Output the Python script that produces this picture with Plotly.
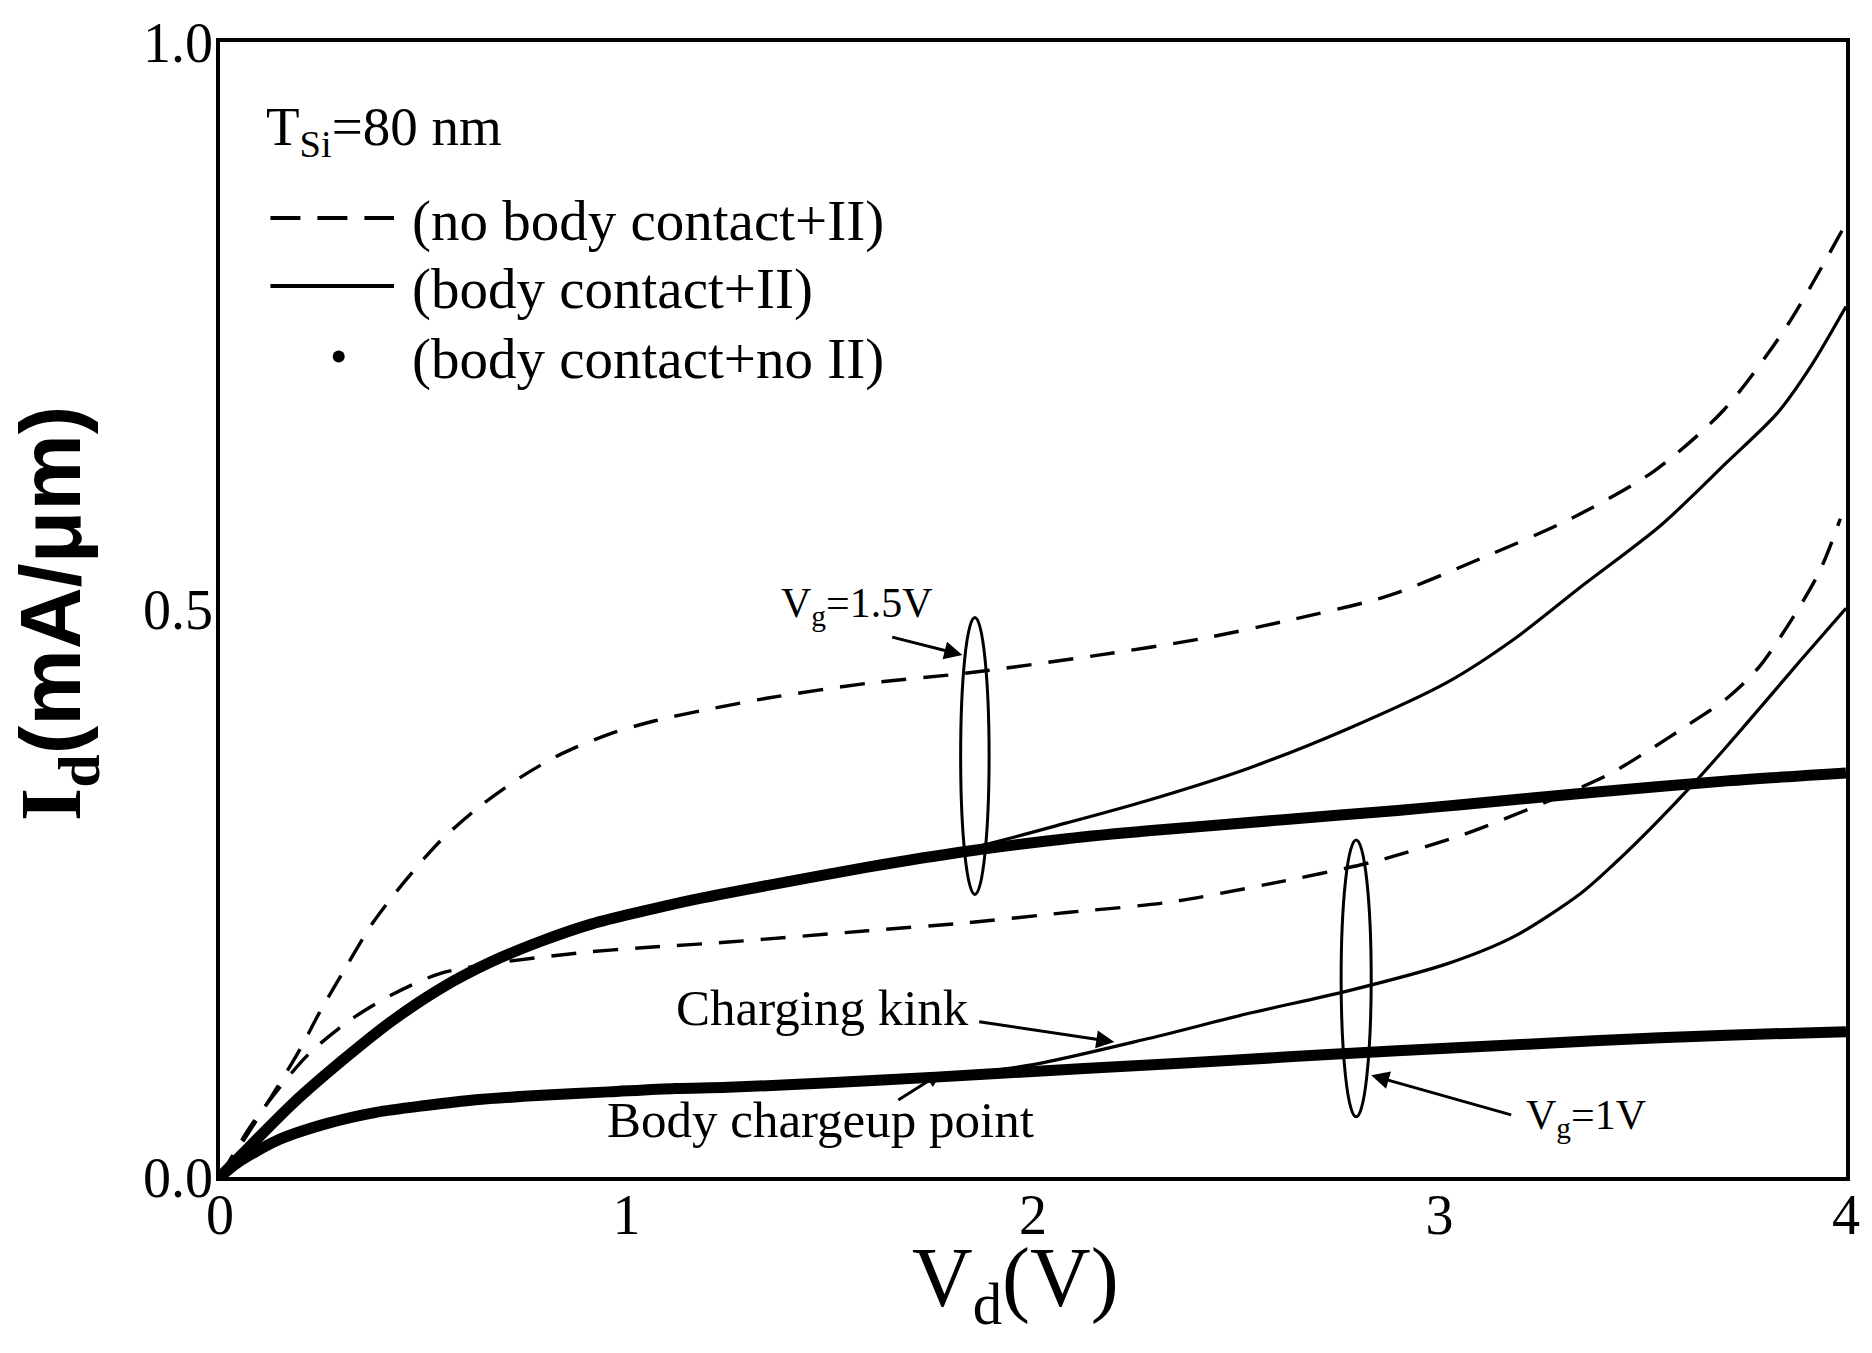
import plotly.graph_objects as go

# ---------------- data ----------------
# Vg = 1.5 V, no body contact + impact ionisation (dashed)
v_nbc_15 = [0, 0.065, 0.139, 0.196, 0.245, 0.31, 0.376, 0.458, 0.539, 0.637, 0.743, 0.841, 0.956, 1.07, 1.2,
            1.348, 1.593, 1.838, 2.165, 2.41, 2.623, 2.873, 3.102, 3.323, 3.528, 3.7, 3.855, 3.995]
i_nbc_15 = [0, 0.036, 0.078, 0.112, 0.145, 0.185, 0.224, 0.262, 0.295, 0.326, 0.353, 0.373, 0.39, 0.402, 0.412,
            0.422, 0.435, 0.444, 0.46, 0.474, 0.49, 0.512, 0.545, 0.58, 0.622, 0.676, 0.75, 0.837]

# Vg = 1.5 V, body contact + II (thin solid)
v_bc_15 = [0, 0.057, 0.18, 0.302, 0.425, 0.547, 0.67, 0.792, 0.915, 1.038, 1.16, 1.348, 1.593, 1.838,
           2.083, 2.284, 2.529, 2.775, 3.02, 3.184, 3.348, 3.544, 3.708, 3.831, 3.913, 4.0]
i_bc_15 = [0, 0.021, 0.065, 0.103, 0.138, 0.167, 0.19, 0.208, 0.223, 0.234, 0.244, 0.257, 0.273, 0.289,
           0.312, 0.332, 0.36, 0.395, 0.436, 0.474, 0.52, 0.574, 0.63, 0.673, 0.714, 0.767]

# Vg = 1.5 V, body contact + no II (thick dotted)
v_bcn_15 = [0, 0.057, 0.18, 0.302, 0.425, 0.547, 0.67, 0.792, 0.915, 1.038, 1.16, 1.348, 1.593, 1.838,
            2.083, 2.284, 2.623, 2.897, 3.053, 3.38, 3.708, 4.0]
i_bcn_15 = [0, 0.021, 0.065, 0.103, 0.138, 0.167, 0.19, 0.208, 0.223, 0.234, 0.244, 0.257, 0.273, 0.287,
            0.298, 0.305, 0.315, 0.323, 0.328, 0.339, 0.349, 0.356]

# Vg = 1 V, no body contact + II (dashed)
v_nbc_1 = [0, 0.074, 0.147, 0.22, 0.319, 0.425, 0.539, 0.67, 0.899, 1.038, 1.25, 1.593, 1.838, 2.083, 2.333,
           2.578, 2.84, 3.061, 3.266, 3.413, 3.511, 3.61, 3.708, 3.79, 3.93, 3.986]
i_nbc_1 = [0, 0.044, 0.079, 0.109, 0.138, 0.161, 0.179, 0.188, 0.198, 0.202, 0.207, 0.217, 0.224, 0.233, 0.242,
           0.258, 0.278, 0.302, 0.331, 0.354, 0.375, 0.398, 0.422, 0.451, 0.53, 0.58]

# Vg = 1 V, body contact + II (thin solid)
v_bc_1 = [0, 0.041, 0.139, 0.262, 0.384, 0.507, 0.629, 0.792, 0.956, 1.119, 1.25, 1.5, 1.8, 2.0, 2.284, 2.529,
          2.775, 3.02, 3.184, 3.348, 3.43, 3.53, 3.626, 3.708, 3.79, 3.888, 4.0]
i_bc_1 = [0, 0.012, 0.032, 0.047, 0.057, 0.063, 0.068, 0.072, 0.075, 0.078, 0.079, 0.083, 0.09, 0.099, 0.122,
          0.144, 0.164, 0.188, 0.212, 0.25, 0.276, 0.311, 0.347, 0.38, 0.414, 0.455, 0.501]

# Vg = 1 V, body contact + no II (thick dotted)
v_bcn_1 = [0, 0.041, 0.139, 0.262, 0.384, 0.507, 0.629, 0.792, 0.956, 1.119, 1.25, 1.5, 1.76, 2.0, 2.25, 2.5,
           2.726, 3.053, 3.38, 3.708, 4.0]
i_bcn_1 = [0, 0.012, 0.032, 0.047, 0.057, 0.063, 0.068, 0.072, 0.075, 0.078, 0.079, 0.083, 0.088, 0.093, 0.098,
           0.103, 0.108, 0.114, 0.12, 0.125, 0.128]

x_ticks = [0, 1, 2, 3, 4]
x_ticktext = ["0", "1", "2", "3", "4"]
y_ticks = [0, 0.5, 1.0]
y_ticktext = ["0.0", "0.5", "1.0"]

legend_labels = ["(no body contact+II)", "(body contact+II)", "(body contact+no II)"]

# ---------------- figure ----------------
SERIF = "Liberation Serif"
BLACK = "#000000"
DASH = "25px,17px"

fig = go.Figure()

for vx, iy in [(v_bcn_15, i_bcn_15), (v_bcn_1, i_bcn_1)]:
    fig.add_trace(go.Scatter(x=vx, y=iy, mode="lines", line=dict(color=BLACK, width=11, shape="spline", smoothing=0.8),
                             showlegend=False, hoverinfo="skip"))
for vx, iy in [(v_bc_15, i_bc_15), (v_bc_1, i_bc_1)]:
    fig.add_trace(go.Scatter(x=vx, y=iy, mode="lines", line=dict(color=BLACK, width=3.2, shape="spline", smoothing=0.8),
                             showlegend=False, hoverinfo="skip"))
for vx, iy in [(v_nbc_15, i_nbc_15), (v_nbc_1, i_nbc_1)]:
    fig.add_trace(go.Scatter(x=vx, y=iy, mode="lines",
                             line=dict(color=BLACK, width=3.4, dash=DASH, shape="spline", smoothing=0.8),
                             showlegend=False, hoverinfo="skip"))

shapes = []
# group ellipses
shapes.append(dict(type="circle", xref="x", yref="y", x0=1.857 - 0.035, x1=1.857 + 0.035,
                   y0=0.371 - 0.122, y1=0.371 + 0.122, line=dict(color=BLACK, width=3)))
shapes.append(dict(type="circle", xref="x", yref="y", x0=2.795 - 0.037, x1=2.795 + 0.037,
                   y0=0.175 - 0.122, y1=0.175 + 0.122, line=dict(color=BLACK, width=3)))
# manual legend samples
shapes.append(dict(type="line", xref="paper", yref="paper", x0=0.031, x1=0.107, y0=0.845, y1=0.845,
                   line=dict(color=BLACK, width=4, dash="30px,17px")))
shapes.append(dict(type="line", xref="paper", yref="paper", x0=0.031, x1=0.107, y0=0.785, y1=0.785,
                   line=dict(color=BLACK, width=4)))
shapes.append(dict(type="circle", xref="paper", yref="paper", xsizemode="pixel", ysizemode="pixel",
                   xanchor=0.073, yanchor=0.723, x0=-6, x1=6, y0=-6, y1=6,
                   fillcolor=BLACK, line=dict(color=BLACK, width=0)))

ann = []
font_leg = dict(family=SERIF, size=57, color=BLACK)
ann.append(dict(xref="paper", yref="paper", x=0.027, y=0.922, xanchor="left", yanchor="middle",
                text="T<sub>Si</sub>=80 nm", showarrow=False, font=dict(family=SERIF, size=55, color=BLACK)))
for lab, yy in zip(legend_labels, [0.842, 0.782, 0.721]):
    ann.append(dict(xref="paper", yref="paper", x=0.117, y=yy, xanchor="left", yanchor="middle",
                    text=lab, showarrow=False, font=font_leg))

font_ann = dict(family=SERIF, size=42, color=BLACK)
font_txt = dict(family=SERIF, size=51, color=BLACK)
# Vg labels + arrows
ann.append(dict(x=1.568, y=0.503, xref="x", yref="y", text="V<sub>g</sub>=1.5V", showarrow=False,
                font=font_ann, xanchor="center", yanchor="middle"))
ann.append(dict(x=1.826, y=0.46, ax=1.65, ay=0.476, xref="x", yref="y", axref="x", ayref="y", text="",
                showarrow=True, arrowhead=2, arrowsize=1.2, arrowwidth=3, arrowcolor=BLACK))
ann.append(dict(x=3.36, y=0.052, xref="x", yref="y", text="V<sub>g</sub>=1V", showarrow=False,
                font=font_ann, xanchor="center", yanchor="middle"))
ann.append(dict(x=2.832, y=0.0896, ax=3.18, ay=0.0544, xref="x", yref="y", axref="x", ayref="y", text="",
                showarrow=True, arrowhead=2, arrowsize=1.2, arrowwidth=3, arrowcolor=BLACK))
# Charging kink
ann.append(dict(x=1.483, y=0.149, xref="x", yref="y", text="Charging kink", showarrow=False,
                font=font_txt, xanchor="center", yanchor="middle"))
ann.append(dict(x=2.2, y=0.119, ax=1.864, ay=0.137, xref="x", yref="y", axref="x", ayref="y", text="",
                showarrow=True, arrowhead=2, arrowsize=1.2, arrowwidth=3, arrowcolor=BLACK))
# Body chargeup point
ann.append(dict(x=1.478, y=0.05, xref="x", yref="y", text="Body chargeup point", showarrow=False,
                font=font_txt, xanchor="center", yanchor="middle"))
ann.append(dict(x=1.775, y=0.092, ax=1.665, ay=0.067, xref="x", yref="y", axref="x", ayref="y", text="",
                showarrow=True, arrowhead=2, arrowsize=1.0, arrowwidth=3, arrowcolor=BLACK))
# axis titles
ann.append(dict(xref="paper", yref="paper", x=-0.100, y=0.497, textangle=-90, xanchor="center", yanchor="middle",
                showarrow=False,
                text="<b>I<sub>d</sub><span style=\"font-family:'Liberation Sans'\">(mA/\u03bcm)</span></b>",
                font=dict(family=SERIF, size=86, color=BLACK)))
ann.append(dict(xref="paper", yref="paper", x=0.489, y=-0.094, xanchor="center", yanchor="middle",
                showarrow=False, text="V<sub>d</sub>(V)",
                font=dict(family=SERIF, size=84, color=BLACK)))

fig.update_layout(
    width=1872, height=1353,
    margin=dict(l=220, r=23, t=38, b=176),
    paper_bgcolor="white", plot_bgcolor="white",
    showlegend=False,
    shapes=shapes, annotations=ann,
    font=dict(family=SERIF, color=BLACK),
)
fig.update_xaxes(range=[0, 4], tickvals=x_ticks, ticktext=x_ticktext, showgrid=False, zeroline=False,
                 showline=True, mirror=True, linecolor=BLACK, linewidth=3.5, ticks="",
                 ticklabelstandoff=-14, ticklabeloverflow="allow",
                 tickfont=dict(family=SERIF, size=56, color=BLACK))
fig.update_yaxes(range=[0, 1], tickvals=y_ticks, ticktext=y_ticktext, showgrid=False, zeroline=False,
                 showline=True, mirror=True, linecolor=BLACK, linewidth=3.5, ticks="",
                 ticklabelstandoff=-8, ticklabeloverflow="allow",
                 tickfont=dict(family=SERIF, size=56, color=BLACK))

# put the figure flush with the page corner (no default 8 px body margin, no scrollbars), no mode bar
fig.write_html("out.html",
               config={"displayModeBar": False},
               post_script="document.body.style.margin='0';document.documentElement.style.overflow='hidden';"
                           "document.body.style.overflow='hidden';")
